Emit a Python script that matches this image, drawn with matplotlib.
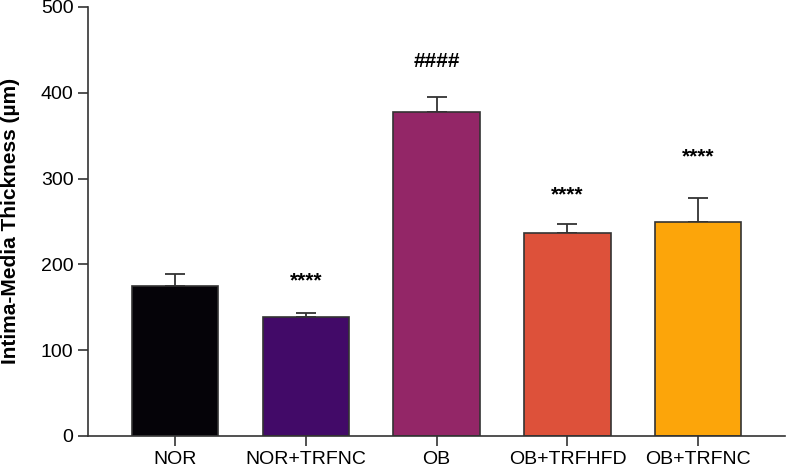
import numpy as np
import matplotlib.pyplot as plt

plt.rcParams['font.family'] = ['Liberation Sans', 'DejaVu Sans']

groups = ['NOR', 'NOR+TRFNC', 'OB', 'OB+TRFHFD', 'OB+TRFNC']
means = [175, 139, 378, 237, 249]
sem = [14, 4.5, 17.5, 10.5, 28]
colors = ['#050308', '#420a68', '#932667', '#dd513a', '#fca50a']
marks = ['', '****', '####', '****', '****']
mark_y = [0, 181, 436, 281, 325]

fig = plt.figure(figsize=(7.87, 4.69), dpi=100)
ax = fig.add_axes([0.1118, 0.0704, 0.886, 0.915])

x = np.arange(len(groups))
ax.bar(x, means, width=0.66, color=colors, edgecolor='#333333', linewidth=1.2, zorder=2)
ax.errorbar(x, means, yerr=[np.zeros(len(sem)), sem], fmt='none', ecolor='#333333',
            elinewidth=1.3, capsize=7.5, capthick=1.3, zorder=1)

for xi, m, yy in zip(x, marks, mark_y):
    if m:
        ax.text(xi, yy, m, ha='center', va='center', fontsize=15, fontweight='bold')

ax.set_xlim(-0.665, 4.665)
ax.set_ylim(0, 500)
ax.set_yticks([0, 100, 200, 300, 400, 500])
ax.set_xticks(x)
ax.set_xticklabels(groups)
ax.tick_params(axis='both', labelsize=14, length=7.5, width=1.2, color='#333333', pad=3)
ax.set_ylabel('Intima-Media Thickness (µm)', fontsize=15, fontweight='bold')
ax.yaxis.set_label_coords(-0.097, 0.5)
for s in ['top', 'right']:
    ax.spines[s].set_visible(False)
for s in ['left', 'bottom']:
    ax.spines[s].set_linewidth(1.2)
    ax.spines[s].set_color('#333333')

fig.savefig('out.png', dpi=100)
